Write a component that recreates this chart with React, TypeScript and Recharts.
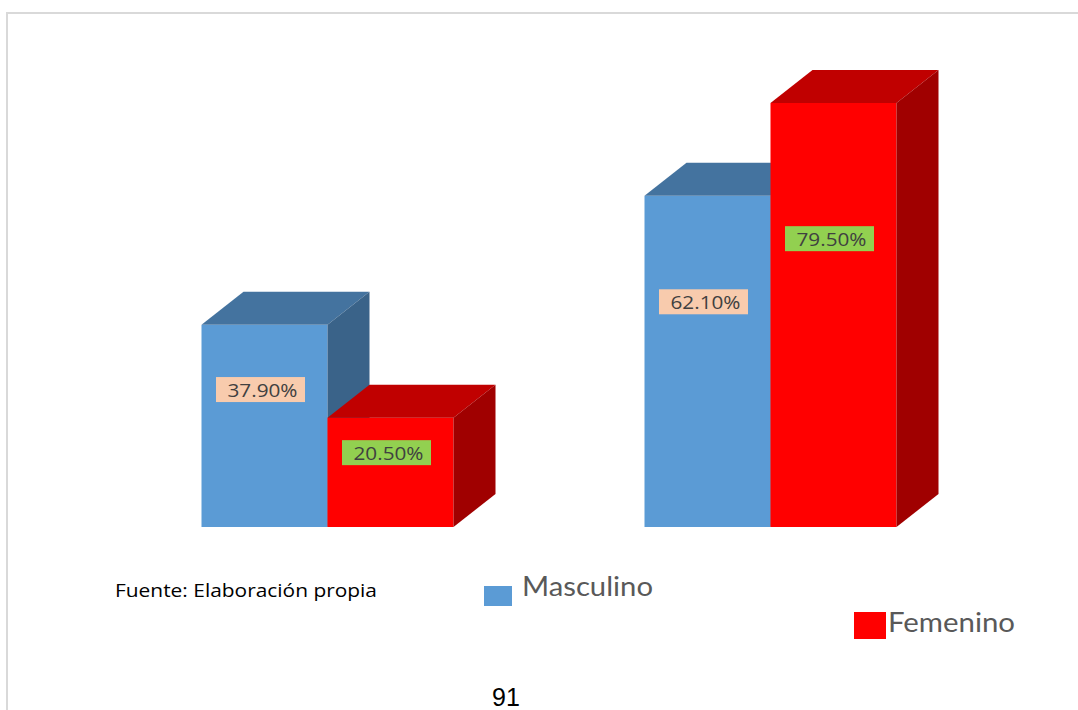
import React from 'react';
import { BarChart, Bar, XAxis, YAxis, Legend, LabelList } from 'recharts';

// Categories and series values (percent)
const categories = ['Grupo A', 'Grupo B'];
const masculino = [37.9, 62.1];
const femenino = [20.5, 79.5];
const seriesNames = ['Masculino', 'Femenino'];
const yDomain: [number, number] = [0, 90];

const data = categories.map((name, i) => ({
  name,
  [seriesNames[0]]: masculino[i],
  [seriesNames[1]]: femenino[i],
}));

const W = 1078;
const H = 710;
const DEPTH_X = 42;
const DEPTH_Y = 33;
const CALIBRI_LIKE = 'Lato, "Open Sans", sans-serif';

const palette = {
  Masculino: { front: '#5B9BD5', top: '#44739F', side: '#3A6389', label: '#F8CBAD' },
  Femenino: { front: '#FF0000', top: '#C00000', side: '#A00000', label: '#92D050' },
} as const;

// Box with a top face and a right side face to give the bar depth
const make3DBar = (key: keyof typeof palette) => (props: any) => {
  const { x, y, width: w, height: h } = props;
  const c = palette[key];
  if (w == null || h == null) return <g />;
  return (
    <g>
      <rect x={x} y={y} width={w} height={h} fill={c.front} />
      <polygon
        points={`${x},${y} ${x + DEPTH_X},${y - DEPTH_Y} ${x + w + DEPTH_X},${y - DEPTH_Y} ${x + w},${y}`}
        fill={c.top}
      />
      <polygon
        points={`${x + w},${y} ${x + w + DEPTH_X},${y - DEPTH_Y} ${x + w + DEPTH_X},${y + h - DEPTH_Y} ${x + w},${y + h}`}
        fill={c.side}
      />
    </g>
  );
};

// Value label on a filled box, placed in the upper part of the bar
const makeLabel = (key: keyof typeof palette) => (props: any) => {
  const { x, y, width, height, value } = props;
  const bw = 89;
  const bh = 25;
  const cx = x + width / 2 - 4;
  const cy = y + height * 0.32;
  return (
    <g>
      <rect x={cx - bw / 2} y={cy - bh / 2} width={bw} height={bh} fill={palette[key].label} />
      <text
        x={cx + 2}
        y={cy + 7}
        textAnchor="middle"
        fontFamily='"Open Sans", sans-serif'
        fontSize={19}
        fill="#404040"
        textLength={70}
        lengthAdjust="spacingAndGlyphs"
      >
        {`${Number(value).toFixed(2)}%`}
      </text>
    </g>
  );
};

const LegendContent = () => (
  <svg
    width={W}
    height={H}
    style={{ position: 'absolute', left: 0, top: 0, overflow: 'visible', pointerEvents: 'none' }}
  >
    <rect x={484} y={586} width={28} height={20} fill={palette.Masculino.front} />
    <text
      x={522}
      y={596}
      fontFamily={CALIBRI_LIKE}
      fontSize={27}
      fill="#595959"
      textLength={131}
      lengthAdjust="spacingAndGlyphs"
    >
      {seriesNames[0]}
    </text>
    <rect x={854} y={612} width={32} height={27} fill={palette.Femenino.front} />
    <text
      x={888}
      y={632}
      fontFamily={CALIBRI_LIKE}
      fontSize={27}
      fill="#595959"
      textLength={127}
      lengthAdjust="spacingAndGlyphs"
    >
      {seriesNames[1]}
    </text>
  </svg>
);

export default function App() {
  return (
    <div style={{ position: 'absolute', left: 0, top: 0, width: W, height: H, background: '#fff' }}>
      <svg width={W} height={H} style={{ position: 'absolute', left: 0, top: 0 }}>
        <rect x={7} y={13} width={W + 20} height={H + 20} fill="#fff" stroke="#D9D9D9" strokeWidth={2} />
        <text
          x={115}
          y={597}
          fontFamily='"Open Sans", sans-serif'
          fontSize={18}
          fill="#000"
          textLength={262}
          lengthAdjust="spacingAndGlyphs"
        >
          Fuente: Elaboración propia
        </text>
        <text x={492} y={706} fontFamily='"Liberation Sans", Arial, sans-serif' fontSize={25} fill="#000">
          91
        </text>
      </svg>
      <div style={{ position: 'absolute', left: 0, top: 0 }}>
        <BarChart
          width={W}
          height={H}
          data={data}
          margin={{ top: 47, right: 86.5, bottom: 183, left: 105.5 }}
          barGap={0}
        >
          <XAxis dataKey="name" hide />
          <YAxis domain={yDomain} hide />
          <Legend
            content={LegendContent}
            wrapperStyle={{ position: 'absolute', left: 0, top: 0, width: 0, height: 0 }}
          />
          <Bar
            dataKey={seriesNames[0]}
            barSize={126}
            isAnimationActive={false}
            shape={make3DBar('Masculino')}
          >
            <LabelList dataKey={seriesNames[0]} content={makeLabel('Masculino')} />
          </Bar>
          <Bar
            dataKey={seriesNames[1]}
            barSize={126}
            isAnimationActive={false}
            shape={make3DBar('Femenino')}
          >
            <LabelList dataKey={seriesNames[1]} content={makeLabel('Femenino')} />
          </Bar>
        </BarChart>
      </div>
    </div>
  );
}
